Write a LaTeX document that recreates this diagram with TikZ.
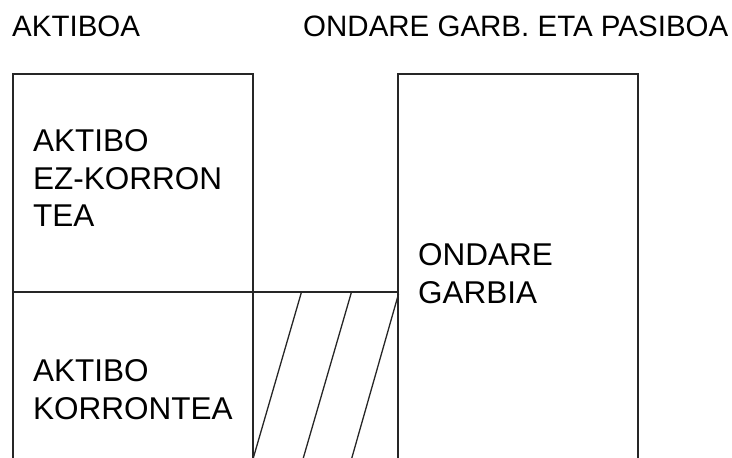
\documentclass[tikz,border=0pt]{standalone}
\usepackage{fontspec}
\setmainfont{Liberation Sans}
\begin{document}
\begin{tikzpicture}[x=1pt,y=-1pt,
  frame/.style={draw=black!85,line width=1.3pt},
  hatchline/.style={draw=black!85,line width=1.3pt},
  lbl/.style={anchor=base west,inner sep=0pt,align=left,
    font=\fontsize{29.5}{37.5}\selectfont,text=black},
  boxlbl/.style={lbl,font=\fontsize{31.5}{37.5}\selectfont}]
\useasboundingbox (0,0) rectangle (732,458);
% corner coordinates
\coordinate (ltl) at (13,74);
\coordinate (ltr) at (253,74);
\coordinate (lml) at (13,292);
\coordinate (lmr) at (253,292);
\coordinate (lbl) at (13,458);
\coordinate (lbr) at (253,458);
\coordinate (rtl) at (398,74);
\coordinate (rtr) at (638,74);
\coordinate (rml) at (398,292);
\coordinate (rbl) at (398,458);
\coordinate (rbr) at (638,458);
% boxes
\draw[frame] (lbl) -- (ltl) -- (ltr) -- (lbr);
\draw[frame] (lml) -- (rml);
\draw[frame] (rbl) -- (rtl) -- (rtr) -- (rbr);
% hatching
\coordinate (h1a) at (301.5,292);
\coordinate (h1b) at (253.3,458);
\coordinate (h2a) at (351.5,292);
\coordinate (h2b) at (303.3,458);
\coordinate (h3a) at (398.5,294);
\coordinate (h3b) at (351.8,458);
\draw[hatchline] (h1a) -- (h1b);
\draw[hatchline] (h2a) -- (h2b);
\draw[hatchline] (h3a) -- (h3b);
% titles
\node[lbl] (t1) at (12,36) {AKTIBOA};
\node[lbl] (t2) at (303,36) {ONDARE GARB. ETA PASIBOA};
% box labels (anchor = baseline of last line)
\node[boxlbl] (b1) at (33,226.7) {AKTIBO\\EZ-KORRON\\TEA};
\node[boxlbl] (b2) at (33,419) {AKTIBO\\KORRONTEA};
\node[boxlbl] (b3) at (418,303) {ONDARE\\GARBIA};
\end{tikzpicture}
\end{document}
